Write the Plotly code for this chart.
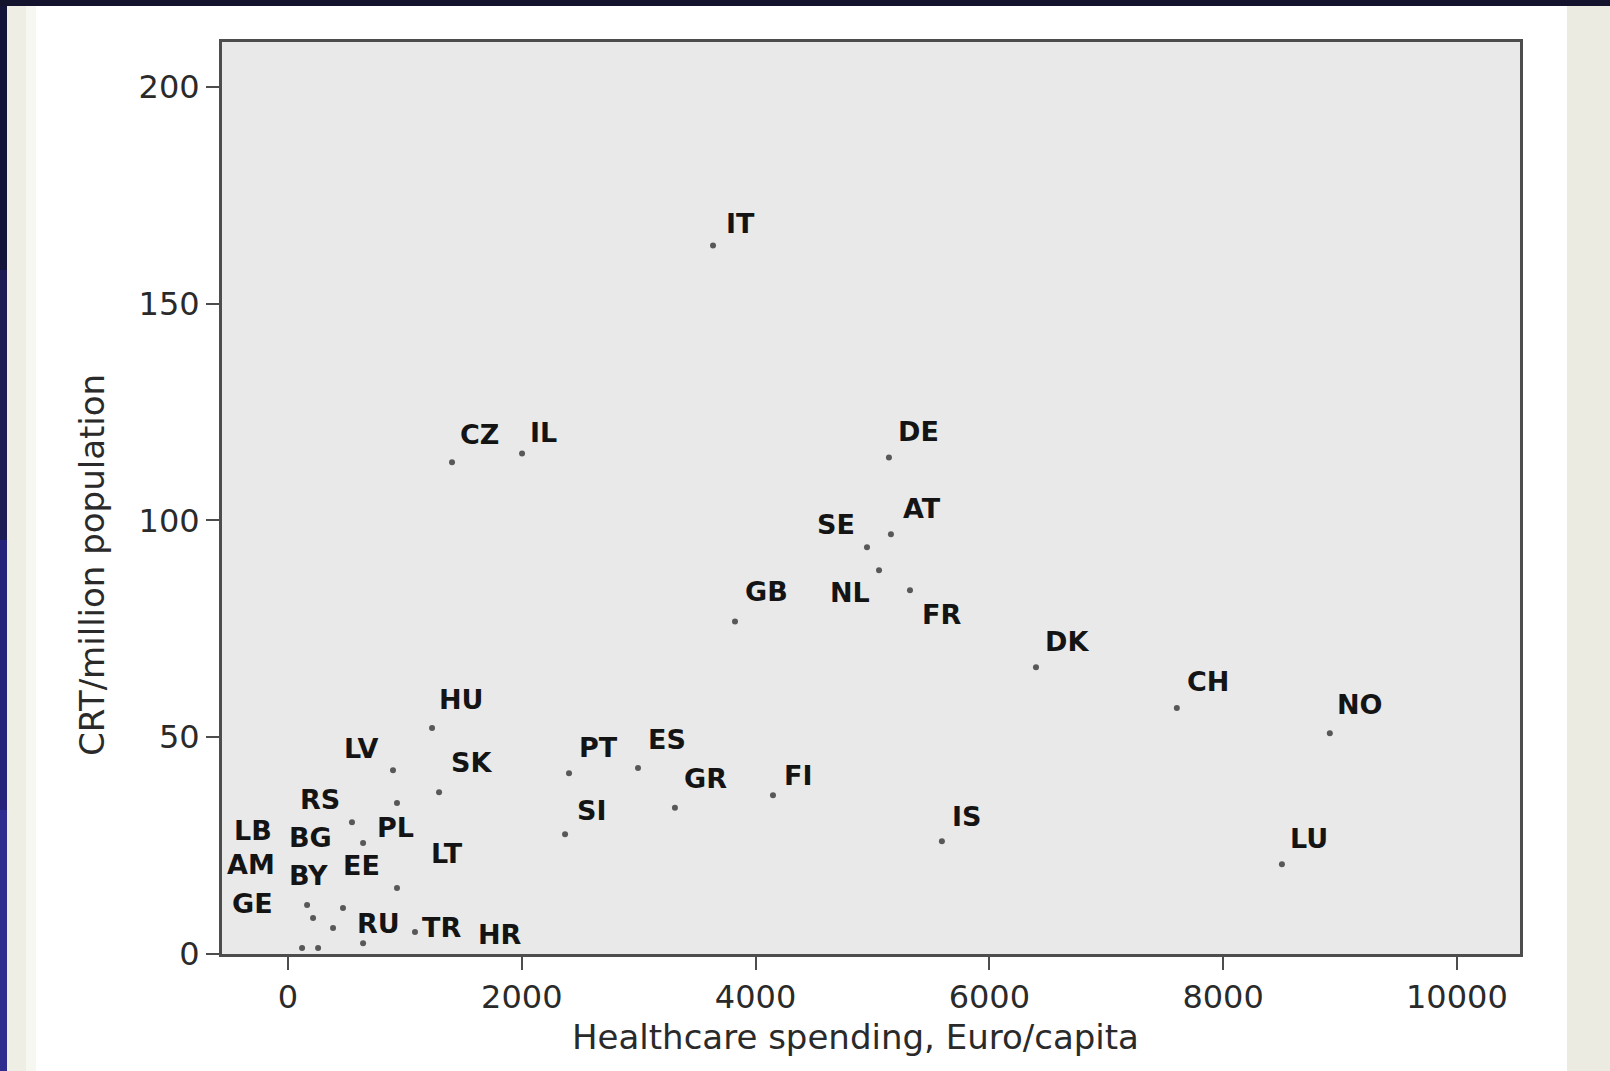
import plotly.graph_objects as go

# Healthcare spending (Euro/capita) vs CRT per million population, by country
countries = ["IT", "CZ", "IL", "DE", "SE", "AT", "NL", "FR", "GB", "DK", "CH", "NO",
             "LU", "IS", "FI", "GR", "ES", "PT", "SI", "HU", "LV", "SK", "LT", "RS",
             "PL", "EE", "GE", "LB", "BY", "RU", "TR", "HR", "AM", "BG"]
spending = [3636, 1403, 2002, 5141, 4953, 5158, 5056, 5321, 3824, 6399, 7604, 8913,
            8503, 5594, 4149, 3310, 2994, 2404, 2370, 1232, 898, 1292, 932, 547,
            642, 932, 163, 470, 214, 385, 642, 1086, 120, 257]
crt = [163.4, 113.4, 115.4, 114.5, 93.8, 96.8, 88.5, 83.9, 76.7, 66.1, 56.7, 50.9,
       20.7, 26.0, 36.6, 33.7, 42.9, 41.7, 27.6, 52.1, 42.4, 37.3, 34.8, 30.4,
       25.6, 15.2, 11.3, 10.6, 8.3, 6.0, 2.5, 5.1, 1.4, 1.4]

x_ticks = [0, 2000, 4000, 6000, 8000, 10000]
y_ticks = [0, 50, 100, 150, 200]

x_title = "Healthcare spending, Euro/capita"
y_title = "CRT/million population"

# label placement (pixel offset of label centre from its point: right, down)
label_offsets = {
    "IT": (27, -22), "CZ": (27, -28), "IL": (21, -21), "DE": (30, -26),
    "SE": (-31, -23), "AT": (31, -26), "NL": (-29, 22), "FR": (32, 24),
    "GB": (31, -30), "DK": (31, -26), "CH": (31, -27), "NO": (30, -29),
    "LU": (27, -26), "IS": (25, -25), "FI": (26, -20), "GR": (31, -29),
    "ES": (29, -28), "PT": (29, -26), "SI": (27, -24), "HU": (29, -29),
    "LV": (-32, -22), "SK": (32, -30), "LT": (50, 50), "RS": (-32, -23),
    "PL": (32, -15), "EE": (-35, -23), "GE": (-55, -2), "LB": (-90, -78),
    "BY": (-5, -43), "RU": (45, -4), "TR": (78, -16), "HR": (85, 3),
    "AM": (-51, -83), "BG": (-8, -110),
}

W, H = 1610, 1071
L, R, T, B = 222, 1520, 42, 954   # plot area edges in pixels
FONT = "DejaVu Sans"
INK = "#2a2a2a"


def px_x(px):
    return (px - L) / (R - L)


def px_y(py):
    return (B - py) / (B - T)


fig = go.Figure()
fig.add_trace(go.Scatter(
    x=spending, y=crt, mode="markers",
    marker=dict(size=6, color="#585858"),
    cliponaxis=False, hoverinfo="text", text=countries,
))

for c, xv, yv in zip(countries, spending, crt):
    dx, dy = label_offsets[c]
    fig.add_annotation(
        x=xv, y=yv, text=c, showarrow=False,
        xshift=dx, yshift=-dy, xanchor="center", yanchor="middle",
        font=dict(family=FONT, size=27, color="#141414", weight="bold"),
    )

# axis titles
fig.add_annotation(x=px_x(855), y=px_y(1037), xref="paper", yref="paper",
                   text=x_title, showarrow=False, xanchor="center", yanchor="middle",
                   font=dict(family=FONT, size=34, color=INK))
fig.add_annotation(x=px_x(92), y=px_y(565), xref="paper", yref="paper",
                   text=y_title, showarrow=False, textangle=-90,
                   xanchor="center", yanchor="middle",
                   font=dict(family=FONT, size=34, color=INK))

# page frame: dark top edge, blue left edge, cream side strips
frame = [
    (0, 0, 7, 270, "#14143a"), (0, 270, 7, 540, "#1c1c55"),
    (0, 540, 7, 810, "#25237a"), (0, 810, 7, 1071, "#2e2c8e"),
    (7, 0, 26, 1071, "#eeeee5"), (26, 0, 36, 1071, "#f7f7f1"),
    (1567, 0, 1610, 1071, "#ecebe2"),
    (0, 0, 1610, 6, "#13132e"),
]
for x0, y0, x1, y1, col in frame:
    fig.add_shape(type="rect", xref="paper", yref="paper",
                  x0=px_x(x0), x1=px_x(x1), y0=px_y(y1), y1=px_y(y0),
                  fillcolor=col, line=dict(width=0), layer="below")

axis_common = dict(
    showline=True, mirror=True, linecolor="#4d4d4d", linewidth=3,
    ticks="outside", ticklen=13, tickwidth=2, tickcolor="#4d4d4d",
    showgrid=False, zeroline=False,
    tickfont=dict(family=FONT, size=32, color=INK),
)

fig.update_layout(
    width=W, height=H,
    margin=dict(l=L, r=W - R, t=T, b=H - B, autoexpand=False),
    paper_bgcolor="white", plot_bgcolor="#e9e9e9",
    showlegend=False,
    xaxis=dict(range=[-565, 10540], tickvals=x_ticks,
               ticktext=[str(v) for v in x_ticks], **axis_common),
    yaxis=dict(range=[0, 210.3], tickvals=y_ticks,
               ticktext=[str(v) for v in y_ticks], **axis_common),
)

fig.write_html("out.html")
